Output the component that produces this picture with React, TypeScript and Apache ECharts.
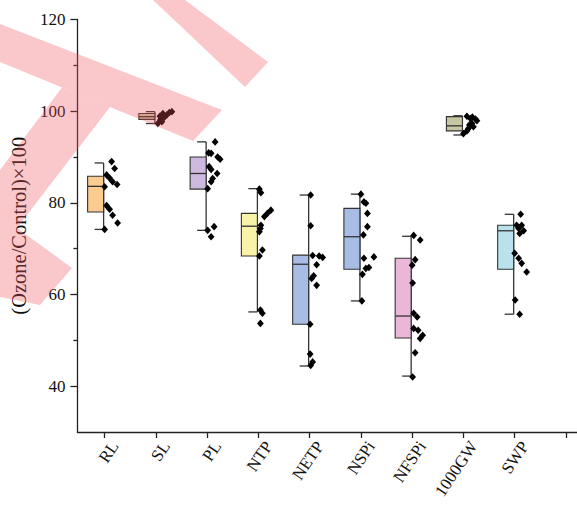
import React, { useEffect, useRef } from 'react';
import * as echarts from 'echarts';

const categories = ['RL', 'SL', 'PL', 'NTP', 'NETP', 'NSPi', 'NFSPi', '1000GW', 'SWP'];
const boxColors = ['#FCCB8F', '#D2CFA8', '#CDB9DD', '#F8F3A6', '#A8BDE5', '#A8BDE5', '#EBB7D9', '#C6C6A2', '#B9E2EC'];

// [min, q1, median, q3, max]
const boxStats = [
  [74.2, 78.0, 83.6, 85.8, 88.7],
  [97.3, 98.2, 98.8, 99.5, 99.9],
  [74.0, 83.0, 86.4, 90.0, 93.3],
  [56.2, 68.4, 74.9, 77.7, 83.1],
  [44.4, 53.5, 66.6, 68.6, 81.7],
  [58.6, 65.5, 72.6, 78.8, 81.9],
  [42.2, 50.5, 55.3, 67.9, 72.7],
  [94.8, 95.7, 96.8, 98.8, 99.0],
  [55.7, 65.5, 73.9, 75.1, 77.5],
];

const rlValues = [89.0, 87.5, 86.1, 85.4, 84.6, 84.0, 83.5, 79.4, 78.6, 77.3, 75.6, 74.2];
const slValues = [99.9, 99.7, 99.5, 99.2, 98.9, 98.7, 98.4, 98.1, 97.7, 97.3];
const plValues = [93.3, 90.9, 90.8, 90.0, 89.5, 87.9, 87.3, 86.4, 85.3, 84.6, 83.1, 74.8, 74.0, 72.6];
const ntpValues = [83.0, 82.2, 78.4, 77.7, 77.0, 75.1, 74.4, 73.7, 69.7, 68.4, 56.6, 55.9, 53.7];
const netpValues = [81.7, 75.0, 68.5, 68.4, 68.1, 66.5, 64.1, 63.5, 62.0, 53.5, 47.0, 45.3, 44.5];
const nspiValues = [81.9, 80.2, 79.9, 77.7, 74.8, 73.0, 68.2, 67.9, 65.9, 65.7, 64.4, 58.6];
const nfspiValues = [72.9, 71.9, 67.6, 66.4, 62.5, 55.9, 55.1, 52.6, 52.2, 51.1, 50.4, 47.3, 42.0];
const gwValues = [98.9, 98.7, 98.4, 98.3, 97.9, 97.3, 97.0, 96.6, 96.2, 95.7, 95.1];
const swpValues = [77.5, 75.1, 75.1, 74.4, 73.9, 73.3, 69.0, 67.9, 66.8, 64.9, 58.8, 55.7];

// horizontal jitter of each point
const rlJitter = [7, 10, 2, 5, 8, 12.5, 0, 2, 5, 8, 13, 0];
const slJitter = [16, 13.5, 7, 11, 4, 8.5, 5.5, 4.5, 6, 2];
const plJitter = [8, 1.5, 4, 10.5, 13, 2, 4, 10, 5.5, 4, 0.5, 7, 0.5, 4];
const ntpJitter = [1, 2.5, 12.5, 9, 6, 2.5, 2, 1, 4, 1, 2, 4, 2];
const netpJitter = [1, 1, 3, 9.5, 13, 7, 4, 2, 7, 0.5, 0.5, 3, 1];
const nspiJitter = [0, 3, 5, 6.5, 6.5, 2.5, 13, 3, 8, 5, 1.5, 1];
const nfspiJitter = [1.5, 8, 3, 0, 0.5, 1.5, 5, 1.5, 6, 10.5, 8, 3, 0.5];
const gwJitter = [3.5, 9, 7, 12, 13.5, 8.5, 6, 10, 5, 3.5, 0];
const swpJitter = [6, 2, 7, 4, 9, 5, 0, 4, 7, 12, 0.5, 5];

const pointGroups = [rlValues, slValues, plValues, ntpValues, netpValues, nspiValues, nfspiValues, gwValues, swpValues];
const jitterGroups = [rlJitter, slJitter, plJitter, ntpJitter, netpJitter, nspiJitter, nfspiJitter, gwJitter, swpJitter];

const majorTicks = [40, 60, 80, 100, 120];
const minorTicks = [50, 70, 90, 110];
const xTicks = [1, 2, 3, 4, 5, 6, 7, 8, 9, 10];

const FONT = '"Liberation Serif", "Times New Roman", serif';
const WM = 'rgba(238,80,90,0.32)';
const LABEL_SHIFT = 0.2;

export default function App() {
  const ref = useRef<HTMLDivElement>(null);
  useEffect(() => {
    if (!ref.current) return;
    const chart = echarts.init(ref.current, undefined, { renderer: 'svg' });

    const boxData = boxStats.map((s, i) => [i + 1, ...s]);
    const pointData: number[][] = [];
    pointGroups.forEach((vals, i) => {
      vals.forEach((v, k) => pointData.push([i + 1, v, jitterGroups[i][k]]));
    });
    const xLabelPos = categories.map((_, i) => i + 1 + LABEL_SHIFT);

    const option: any = {
      animation: false,
      backgroundColor: '#ffffff',
      grid: { left: 76.5, right: 0, top: 19.5, bottom: 75, containLabel: false },
      xAxis: {
        type: 'value',
        min: 0.469,
        max: 10.216,
        axisLine: { show: true, lineStyle: { color: '#222', width: 1.3 } },
        axisTick: { show: true, customValues: xTicks, length: 6, lineStyle: { color: '#222', width: 1.3 } },
        axisLabel: {
          customValues: xLabelPos,
          rotate: 56,
          margin: 11,
          fontFamily: FONT,
          fontSize: 17,
          color: '#111',
          formatter: (v: number) => categories[Math.round(v - LABEL_SHIFT) - 1] ?? '',
        },
        splitLine: { show: false },
      },
      yAxis: [
        {
          type: 'value',
          min: 30,
          max: 120,
          name: '(Ozone/Control)×100',
          nameLocation: 'middle',
          nameGap: 46,
          nameTextStyle: { fontFamily: FONT, fontSize: 20.5, color: '#111' },
          axisLine: { show: true, lineStyle: { color: '#222', width: 1.3 } },
          axisTick: { show: true, customValues: majorTicks, length: 7, lineStyle: { color: '#222', width: 1.3 } },
          axisLabel: { customValues: majorTicks, fontFamily: FONT, fontSize: 17, color: '#111', margin: 12 },
          splitLine: { show: false },
        },
        {
          type: 'value',
          min: 30,
          max: 120,
          position: 'left',
          axisLine: { show: false },
          axisTick: { show: true, customValues: minorTicks, length: 4, lineStyle: { color: '#222', width: 1.3 } },
          axisLabel: { show: false },
          splitLine: { show: false },
        },
      ],
      series: [
        {
          type: 'custom',
          name: 'box',
          data: boxData,
          encode: { x: 0, y: [1, 2, 3, 4, 5] },
          z: 3,
          renderItem: (params: any, api: any) => {
            const x = api.value(0);
            const idx = Math.round(x) - 1;
            const pMin = api.coord([x, api.value(1)]);
            const pQ1 = api.coord([x, api.value(2)]);
            const pMed = api.coord([x, api.value(3)]);
            const pQ3 = api.coord([x, api.value(4)]);
            const pMax = api.coord([x, api.value(5)]);
            const wx = pMin[0] - 1;
            const bw = 16;
            const stroke = { stroke: '#333', lineWidth: 1.3 };
            return {
              type: 'group',
              children: [
                { type: 'line', shape: { x1: wx, y1: pMax[1], x2: wx, y2: pMin[1] }, style: stroke },
                { type: 'line', shape: { x1: wx - 9, y1: pMax[1], x2: wx, y2: pMax[1] }, style: stroke },
                { type: 'line', shape: { x1: wx - 9, y1: pMin[1], x2: wx, y2: pMin[1] }, style: stroke },
                {
                  type: 'rect',
                  shape: { x: wx - bw, y: pQ3[1], width: bw, height: pQ1[1] - pQ3[1] },
                  style: { fill: boxColors[idx], stroke: '#333', lineWidth: 1.1 },
                },
                { type: 'line', shape: { x1: wx - bw, y1: pMed[1], x2: wx, y2: pMed[1] }, style: stroke },
              ],
            };
          },
        },
        {
          type: 'custom',
          name: 'points',
          data: pointData,
          encode: { x: 0, y: 1 },
          z: 4,
          renderItem: (params: any, api: any) => {
            const p = api.coord([api.value(0), api.value(1)]);
            const cx = p[0] + api.value(2);
            const cy = p[1];
            return {
              type: 'polygon',
              shape: { points: [[cx, cy - 3.8], [cx + 3.4, cy], [cx, cy + 3.8], [cx - 3.4, cy]] },
              style: { fill: '#000' },
            };
          },
        },
      ],
      graphic: [
        { type: 'polygon', z: 100, silent: true, shape: { points: [[153, 0], [185, 0], [268, 62], [245, 87]] }, style: { fill: WM } },
        { type: 'polygon', z: 100, silent: true, shape: { points: [[0, 24], [222, 110], [193, 141], [0, 62]] }, style: { fill: WM } },
        { type: 'polygon', z: 100, silent: true, shape: { points: [[62, 87.4], [110, 107], [0, 250], [0, 170]] }, style: { fill: WM } },
        { type: 'polygon', z: 100, silent: true, shape: { points: [[17, 228], [72, 268], [40, 305], [0, 297], [0, 250]] }, style: { fill: WM } },
      ],
    };
    chart.setOption(option);
    return () => chart.dispose();
  }, []);
  return (
    <div
      ref={ref}
      style={{ position: 'fixed', left: 0, top: 0, width: 577, height: 507, background: '#fff' }}
    />
  );
}
